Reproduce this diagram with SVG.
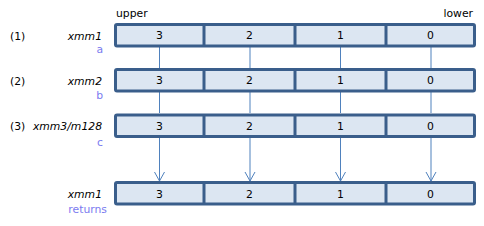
<svg xmlns="http://www.w3.org/2000/svg" width="484" height="226" viewBox="0 0 484 226">
<defs>
<style>
text{font-family:"DejaVu Sans","Verdana",sans-serif;font-size:10.8px;fill:#000}
.lbl{font-style:italic;text-anchor:end}
.var{fill:#7b7bef;text-anchor:end}
.num{text-anchor:middle}
.box{fill:#dce6f2;stroke:#3a5e8b;stroke-width:3}
.div{stroke:#3a5e8b;stroke-width:3}
.con{stroke:#4f81bd;stroke-width:1;fill:none}
</style>
<marker id="arr" markerWidth="12" markerHeight="12" refX="10" refY="6" orient="auto" markerUnits="userSpaceOnUse" viewBox="0 0 12 12">
<path d="M1,1 L10,6 L1,11" fill="none" stroke="#4f81bd" stroke-width="1"/>
</marker>
<g id="reg">
<rect class="box" x="115.5" y="0" width="359" height="21.5" rx="1.5"/>
<line class="div" x1="204" y1="0" x2="204" y2="21.5"/>
<line class="div" x1="295" y1="0" x2="295" y2="21.5"/>
<line class="div" x1="386" y1="0" x2="386" y2="21.5"/>
</g>
</defs>
<text x="116" y="17">upper</text>
<text x="473" y="17" text-anchor="end">lower</text>
<g id="connectors">
<line class="con" x1="159.5" y1="47" x2="159.5" y2="68"/>
<line class="con" x1="250" y1="47" x2="250" y2="68"/>
<line class="con" x1="340.5" y1="47" x2="340.5" y2="68"/>
<line class="con" x1="431" y1="47" x2="431" y2="68"/>
<line class="con" x1="159.5" y1="92" x2="159.5" y2="113"/>
<line class="con" x1="250" y1="92" x2="250" y2="113"/>
<line class="con" x1="340.5" y1="92" x2="340.5" y2="113"/>
<line class="con" x1="431" y1="92" x2="431" y2="113"/>
<line class="con" x1="159.5" y1="138" x2="159.5" y2="181" marker-end="url(#arr)"/>
<line class="con" x1="250" y1="138" x2="250" y2="181" marker-end="url(#arr)"/>
<line class="con" x1="340.5" y1="138" x2="340.5" y2="181" marker-end="url(#arr)"/>
<line class="con" x1="431" y1="138" x2="431" y2="181" marker-end="url(#arr)"/>
</g>
<g id="row1">
<use href="#reg" y="24.5"/>
<text x="10" y="40">(1)</text>
<text class="lbl" x="102" y="40">xmm1</text>
<text class="var" x="103" y="53">a</text>
<text class="num" x="159.5" y="39">3</text>
<text class="num" x="249.5" y="39">2</text>
<text class="num" x="340.5" y="39">1</text>
<text class="num" x="430.5" y="39">0</text>
</g>
<g id="row2">
<use href="#reg" y="69.5"/>
<text x="10" y="85">(2)</text>
<text class="lbl" x="102" y="85">xmm2</text>
<text class="var" x="103" y="99">b</text>
<text class="num" x="159.5" y="84">3</text>
<text class="num" x="249.5" y="84">2</text>
<text class="num" x="340.5" y="84">1</text>
<text class="num" x="430.5" y="84">0</text>
</g>
<g id="row3">
<use href="#reg" y="115"/>
<text x="10" y="130">(3)</text>
<text class="lbl" x="102" y="130">xmm3/m128</text>
<text class="var" x="103" y="146">c</text>
<text class="num" x="159.5" y="130">3</text>
<text class="num" x="249.5" y="130">2</text>
<text class="num" x="340.5" y="130">1</text>
<text class="num" x="430.5" y="130">0</text>
</g>
<g id="row4">
<use href="#reg" y="182.5"/>
<text class="lbl" x="102" y="198">xmm1</text>
<text class="var" x="107" y="213">returns</text>
<text class="num" x="159.5" y="198">3</text>
<text class="num" x="249.5" y="198">2</text>
<text class="num" x="340.5" y="198">1</text>
<text class="num" x="430.5" y="198">0</text>
</g>
</svg>
